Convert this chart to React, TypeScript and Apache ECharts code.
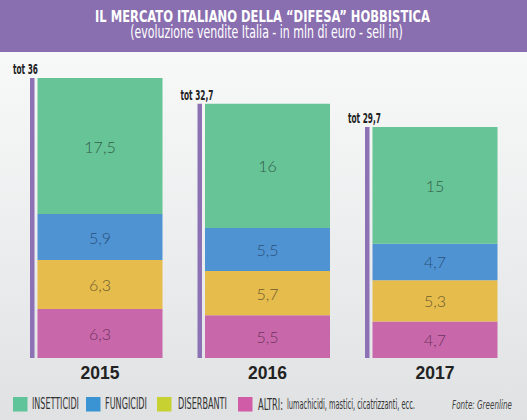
import React, { useEffect, useRef } from "react";
import * as echarts from "echarts";

const categories = ["2015", "2016", "2017"];
const insetticidi = [17.5, 16, 15];
const fungicidi = [5.9, 5.5, 4.7];
const diserbanti = [6.3, 5.7, 5.3];
const altri = [6.3, 5.5, 4.7];
const totals = [36, 32.7, 29.7];
const legendNames = ["INSETTICIDI", "FUNGICIDI", "DISERBANTI", "ALTRI:"];
const legendColors = ["#5fc49a", "#3a94d4", "#c8d132", "#d05ca7"];
const altriNote = "lumachicidi, mastici, cicatrizzanti, ecc.";
const titleText = "IL MERCATO ITALIANO DELLA \u201CDIFESA\u201D HOBBISTICA";
const subtitleText = "(evoluzione vendite Italia - in mln di euro - sell in)";
const sourceText = "Fonte: Greenline";

const COND = "'DejaVu Sans Condensed', 'DejaVu Sans', sans-serif";
const fmt = (v: number) => String(v).replace(".", ",");

let measureCtx: CanvasRenderingContext2D | null = null;
function measure(text: string, font: string) {
  if (!measureCtx) measureCtx = document.createElement("canvas").getContext("2d");
  measureCtx!.font = font;
  return measureCtx!.measureText(text).width;
}
function fitText(text: string, font: string, x: number, y: number, width: number, fill: string, align = "left") {
  const sx = width / measure(text, font);
  return {
    type: "text",
    x,
    y,
    scaleX: sx,
    silent: true,
    style: { text, font, fill, align, verticalAlign: "middle" },
  };
}

export default function App() {
  const ref = useRef<HTMLDivElement>(null);
  useEffect(() => {
    if (!ref.current) return;
    const chart = echarts.init(ref.current, null, { renderer: "svg" });
    const labelFor = (color: string) => ({
      show: true,
      position: "inside",
      formatter: (p: any) => fmt(p.value),
      color,
      fontFamily: "Lato, sans-serif",
      fontWeight: 300,
      fontSize: 16,
    });
    const barCommon = { type: "bar", stack: "tot", barWidth: 125 };

    const legendSquareX = [13, 86, 157, 238];
    const legendTextX = [32, 105, 178, 258];
    const legendTextW = [47, 42, 49, 25];
    const legendFont = `15px ${COND}`;
    const legendGraphics: any[] = [];
    legendNames.forEach((n, i) => {
      legendGraphics.push({
        type: "rect",
        shape: { x: legendSquareX[i], y: 397, width: 14.5, height: 14.5 },
        style: { fill: legendColors[i] },
        silent: true,
      });
      legendGraphics.push(fitText(n, legendFont, legendTextX[i], 404.5, legendTextW[i], "#333333"));
    });
    legendGraphics.push(fitText(altriNote, `14px ${COND}`, 287, 404.5, 128, "#333333"));

    const totFont = `bold 13.5px ${COND}`;
    const totScale = 25 / measure("tot 36", totFont);

    chart.setOption({
      animation: false,
      backgroundColor: "transparent",
      graphic: [
        { type: "rect", shape: { x: 0, y: 0, width: 527, height: 52 }, style: { fill: "#8a6fb0" }, silent: true },
        fitText(titleText, `bold 16px ${COND}`, 262.5, 16.5, 335, "#ffffff", "center"),
        fitText(subtitleText, `17px ${COND}`, 266.5, 32, 273, "#ffffff", "center"),
        fitText(sourceText, `italic 12.5px ${COND}`, 452, 404.5, 60, "#444444"),
        ...legendGraphics,
      ],
      grid: { left: 16.25, right: 8.25, top: 78, bottom: 62, containLabel: false },
      xAxis: {
        type: "category",
        data: categories,
        axisLine: { show: false },
        axisTick: { show: false },
        axisLabel: {
          margin: 6,
          color: "#222222",
          fontWeight: "bold",
          fontSize: 17.5,
          fontFamily: "'Liberation Sans', Arial, sans-serif",
        },
      },
      yAxis: { type: "value", min: 0, max: 36, show: false, splitLine: { show: false } },
      series: [
        { ...barCommon, name: "ALTRI", data: altri, itemStyle: { color: "#c868aa" }, label: labelFor("#70325f") },
        { ...barCommon, name: "DISERBANTI", data: diserbanti, itemStyle: { color: "#e6bd4c" }, label: labelFor("#6e5c2c") },
        { ...barCommon, name: "FUNGICIDI", data: fungicidi, itemStyle: { color: "#4f93d3" }, label: labelFor("#2a527c") },
        { ...barCommon, name: "INSETTICIDI", data: insetticidi, itemStyle: { color: "#66c496" }, label: labelFor("#33604b") },
        {
          type: "custom",
          name: "tot",
          data: totals.map((t, i) => [i, t]),
          encode: { x: 0, y: 1 },
          clip: false,
          renderItem: (params: any, api: any) => {
            const idx = api.value(0);
            const val = api.value(1);
            const base = api.coord([idx, 0]);
            const top = api.coord([idx, val]);
            const lineX = base[0] - 70;
            return {
              type: "group",
              children: [
                {
                  type: "rect",
                  shape: { x: lineX, y: top[1], width: 4.5, height: base[1] - top[1] },
                  style: { fill: "#8c72b5" },
                },
                {
                  type: "text",
                  x: lineX - 17,
                  y: top[1] - 1,
                  scaleX: totScale,
                  style: {
                    text: "tot " + fmt(val),
                    fill: "#222222",
                    font: totFont,
                    align: "left",
                    verticalAlign: "bottom",
                  },
                },
              ],
            };
          },
        },
      ],
    });
    return () => chart.dispose();
  }, []);
  return (
    <div
      style={{
        position: "absolute",
        left: 0,
        top: 0,
        width: 527,
        height: 420,
        background: "linear-gradient(180deg, #fbfbfb 0%, #f3f4f4 30%, #e9eaeb 70%, #dfe1e2 100%)",
      }}
    >
      <div ref={ref} style={{ width: 527, height: 420 }} />
    </div>
  );
}
